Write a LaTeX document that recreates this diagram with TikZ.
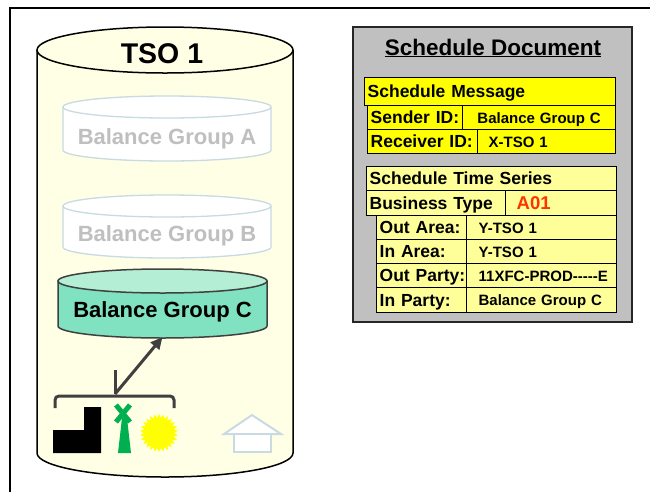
\documentclass[tikz,border=0pt]{standalone}
\usepackage{fontspec}
\setmainfont{Liberation Sans}
\usetikzlibrary{arrows.meta,shapes.geometric}
\definecolor{ivory}{RGB}{255,255,230}
\definecolor{bgline}{RGB}{200,218,226}
\definecolor{bgtext}{RGB}{191,191,191}
\definecolor{mint}{RGB}{128,226,192}
\definecolor{minttop}{RGB}{180,238,212}
\definecolor{dgray}{RGB}{64,64,64}
\definecolor{panel}{RGB}{192,192,192}
\definecolor{ylw}{RGB}{255,255,0}
\definecolor{lylw}{RGB}{255,255,153}
\definecolor{redA}{RGB}{255,51,0}
\definecolor{turb}{RGB}{0,176,80}
\begin{document}
\begin{tikzpicture}[x=1pt,y=-1pt,
  cell/.style={draw=black, line width=1.3pt, anchor=north west, inner xsep=3pt, inner ysep=0pt,
    align=left, font=\bfseries\fontsize{17.5}{20}\selectfont, text height=12.6pt, text depth=0pt},
  valcell/.style={cell, font=\bfseries\fontsize{15}{17}\selectfont, text height=10.8pt},
  cyltext/.style={font=\bfseries\fontsize{22}{24}\selectfont, anchor=base, inner sep=0pt},
  bgcyl/.style={fill=white, draw=bgline, line width=1.3pt},
  arr/.style={draw=dgray, line width=3pt}
]
\useasboundingbox (0,0) rectangle (650,491);
\fill[white] (0,0) rectangle (650,491);
\draw[line width=2.5pt] (10,495) -- (10,8) -- (655,8);

% big cylinder TSO 1
\filldraw[fill=ivory, draw=black, line width=1.5pt] (37,50) -- (37,453)
  arc[start angle=180, end angle=360, x radius=128pt, y radius=24pt] -- (293,50);
\filldraw[fill=ivory, draw=black, line width=1.5pt] (165,50) ellipse[x radius=128pt, y radius=23pt];
\node[font=\bfseries\fontsize{28.5}{30}\selectfont, anchor=base, inner sep=0pt] (tso) at (162,63) {TSO 1};

% Balance Group A
\filldraw[bgcyl] (63,107) -- (63,150) arc[start angle=180, end angle=360, x radius=104pt, y radius=11pt]
  -- (271,107) arc[start angle=0, end angle=180, x radius=104pt, y radius=11pt] -- cycle;
\draw[bgcyl, fill=none] (63,107) arc[start angle=180, end angle=360, x radius=104pt, y radius=11pt];
\node[cyltext, text=bgtext] (bga) at (167,144) {Balance Group A};

% Balance Group B
\filldraw[bgcyl] (63,206) -- (63,247) arc[start angle=180, end angle=360, x radius=104pt, y radius=11pt]
  -- (271,206) arc[start angle=0, end angle=180, x radius=104pt, y radius=11pt] -- cycle;
\draw[bgcyl, fill=none] (63,206) arc[start angle=180, end angle=360, x radius=104pt, y radius=11pt];
\node[cyltext, text=bgtext] (bgb) at (167,241) {Balance Group B};

% Balance Group C
\filldraw[fill=mint, draw=dgray, line width=1.5pt] (58,281) -- (58,326)
  arc[start angle=180, end angle=360, x radius=104.5pt, y radius=12pt] -- (267,281) -- cycle;
\filldraw[fill=minttop, draw=dgray, line width=1.5pt] (162.5,281) ellipse[x radius=104.5pt, y radius=12pt];
\node[cyltext] (bgc) at (162.5,317) {Balance Group C};
\coordinate (cbot) at (162.5,337);

% brace and arrow
\coordinate (stubtop) at (115,370);
\coordinate (fork) at (115,394);
\draw[arr, rounded corners=4pt] (55,408) -- (55,396) -- (174,396) -- (174,408);
\draw[arr] (stubtop) -- (fork);
\draw[arr, -{Triangle[length=12pt, width=11pt]}] (fork) -- (cbot);

% factory
\fill[black] (53,453) -- (101,453) -- (101,407) -- (84,407) -- (84,430) -- (53,430) -- cycle;
% wind turbine
\fill[turb] (118,453) -- (131,453) -- (127,418) -- (122,418) -- cycle;
\draw[turb, line width=5pt] (116,405) -- (130,422);
\draw[turb, line width=5pt] (130,405) -- (116,422);
% sun
\node[star, star points=26, star point ratio=1.25, fill=ylw, draw=none, minimum size=38pt, inner sep=0pt] (sun) at (159,433) {};
% house
\filldraw[fill=white, draw=bgline, line width=2pt] (224,434) -- (252,415) -- (281,434) -- cycle;
\filldraw[fill=white, draw=bgline, line width=2pt] (234,434) rectangle (271,452);

% Schedule document panel
\filldraw[fill=panel, draw=black!85, line width=1.8pt] (353,27) rectangle (632,322);
\node[font=\bfseries\fontsize{22.5}{24}\selectfont, anchor=base, inner sep=0pt] (title) at (493,55) {\underline{Schedule Document}};

\node[cell, fill=ylw, minimum width=251pt, minimum height=28pt, text width=245pt] (sm) at (364,77) {\mbox{Schedule Message}};
\node[cell, fill=ylw, minimum width=95pt, minimum height=24pt, text width=89pt] (sid) at (367,105) {\mbox{Sender ID:}};
\node[valcell, fill=ylw, minimum width=153pt, minimum height=24pt, text width=147pt, align=center] (sidv) at (462,105) {\mbox{Balance Group C}};
\node[cell, fill=ylw, minimum width=110pt, minimum height=24pt, text width=104pt] (rid) at (367,129) {\mbox{Receiver ID:}};
\node[valcell, fill=ylw, minimum width=138pt, minimum height=24pt, inner xsep=11pt, text width=116pt] (ridv) at (477,129) {\mbox{X-TSO 1}};

\node[cell, fill=lylw, minimum width=250pt, minimum height=24pt, text width=244pt] (sts) at (366,166) {\mbox{Schedule Time Series}};
\node[cell, fill=lylw, minimum width=139pt, minimum height=25pt, text width=133pt] (bt) at (366,190) {\mbox{Business Type}};
\node[cell, fill=lylw, minimum width=111pt, minimum height=25pt, inner xsep=11pt, text width=89pt, text=redA, font=\bfseries\fontsize{18.5}{20}\selectfont] (btv) at (505,190) {\mbox{A01}};

\node[cell, fill=lylw, minimum width=90pt, minimum height=24pt, text width=84pt] (oa) at (376,215) {\mbox{Out Area:}};
\node[valcell, fill=lylw, minimum width=150pt, minimum height=24pt, inner xsep=12pt, text width=126pt] (oav) at (466,215) {\mbox{Y-TSO 1}};
\node[cell, fill=lylw, minimum width=90pt, minimum height=24pt, text width=84pt] (ia) at (376,239) {\mbox{In Area:}};
\node[valcell, fill=lylw, minimum width=150pt, minimum height=24pt, inner xsep=12pt, text width=126pt] (iav) at (466,239) {\mbox{Y-TSO 1}};
\node[cell, fill=lylw, minimum width=90pt, minimum height=24pt, text width=84pt] (op) at (376,263) {\mbox{Out Party:}};
\node[valcell, fill=lylw, minimum width=150pt, minimum height=24pt, inner xsep=12pt, text width=126pt] (opv) at (466,263) {\mbox{11XFC-PROD-{}-{}-{}-{}-E}};
\node[cell, fill=lylw, minimum width=90pt, minimum height=25pt, text width=84pt] (ip) at (376,287) {\mbox{In Party:}};
\node[valcell, fill=lylw, minimum width=150pt, minimum height=25pt, inner xsep=12pt, text width=126pt] (ipv) at (466,287) {\mbox{Balance Group C}};
\end{tikzpicture}
\end{document}
